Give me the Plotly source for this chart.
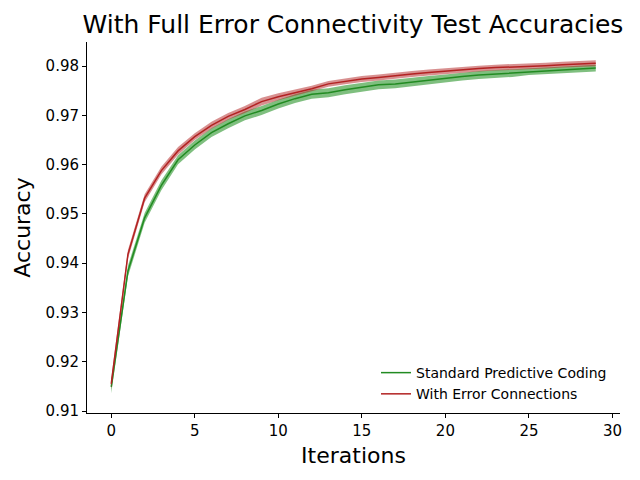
import plotly.graph_objects as go

iterations = list(range(30))
standard_mean = [0.9149, 0.9384, 0.9492, 0.9558, 0.9610, 0.9640, 0.9665, 0.9683, 0.9699, 0.9710,
                 0.9723, 0.9734, 0.9743, 0.9746, 0.9752, 0.9757, 0.9762, 0.9764, 0.9768, 0.9772,
                 0.9775, 0.9779, 0.9782, 0.9784, 0.9786, 0.9789, 0.9791, 0.9792, 0.9794, 0.9796]
standard_std = [0.0013, 0.0011, 0.0010, 0.0010, 0.0009, 0.0009, 0.0009, 0.0009, 0.0009, 0.0009,
                0.0009, 0.0009, 0.0009, 0.0009, 0.0009, 0.0009, 0.0009, 0.0009, 0.0009, 0.0008,
                0.0008, 0.0008, 0.0008, 0.0008, 0.0008, 0.0007, 0.0007, 0.0007, 0.0007, 0.0007]
error_mean = [0.9155, 0.9418, 0.9532, 0.9588, 0.9628, 0.9657, 0.9680, 0.9698, 0.9712, 0.9728,
              0.9738, 0.9746, 0.9754, 0.9764, 0.9769, 0.9774, 0.9777, 0.9781, 0.9784, 0.9787,
              0.9790, 0.9793, 0.9795, 0.9797, 0.9798, 0.9799, 0.9801, 0.9803, 0.9804, 0.9806]
error_std = [0.0011, 0.0009, 0.0008, 0.0008, 0.0008, 0.0007, 0.0007, 0.0007, 0.0007, 0.0008,
             0.0007, 0.0006, 0.0006, 0.0006, 0.0006, 0.0006, 0.0006, 0.0006, 0.0006, 0.0006,
             0.0006, 0.0006, 0.0006, 0.0006, 0.0006, 0.0006, 0.0006, 0.0006, 0.0006, 0.0006]

series = [
    ("Standard Predictive Coding", standard_mean, standard_std, "#228b22", "rgba(0,128,0,0.5)"),
    ("With Error Connections", error_mean, error_std, "#b22222", "rgba(178,34,34,0.5)"),
]

fig = go.Figure()
for name, mean, std, lc, fc in series:
    upper = [m + s for m, s in zip(mean, std)]
    lower = [m - s for m, s in zip(mean, std)]
    fig.add_trace(go.Scatter(x=iterations, y=upper, mode="lines", line=dict(width=0),
                             showlegend=False, hoverinfo="skip"))
    fig.add_trace(go.Scatter(x=iterations, y=lower, mode="lines", line=dict(width=0),
                             fill="tonexty", fillcolor=fc, showlegend=False, hoverinfo="skip"))
    fig.add_trace(go.Scatter(x=iterations, y=mean, mode="lines", name=name,
                             line=dict(color=lc, width=1.5)))

fig.update_layout(
    width=640, height=480,
    margin=dict(l=79, r=28, t=34, b=75),
    paper_bgcolor="white", plot_bgcolor="white",
    font=dict(family="DejaVu Sans", color="black"),
    title=dict(text="With Full Error Connectivity Test Accuracies", x=0.539, xanchor="center",
               y=0.967, yanchor="middle", font=dict(size=25)),
    legend=dict(x=0.985, y=0.008, xanchor="right", yanchor="bottom", bgcolor="rgba(0,0,0,0)",
                font=dict(size=14), tracegroupgap=0, traceorder="normal"),
    showlegend=True,
)
fig.update_xaxes(range=[-1.45, 30.45], tickvals=[0, 5, 10, 15, 20, 25, 30], automargin=False,
                 showline=True, linecolor="black", linewidth=1, ticks="outside", ticklen=4,
                 tickcolor="black", showgrid=False, zeroline=False, mirror=False,
                 tickfont=dict(size=15),
                 title=dict(text="Iterations", font=dict(size=22), standoff=8))
fig.update_yaxes(range=[0.9096, 0.9849], tickvals=[0.91, 0.92, 0.93, 0.94, 0.95, 0.96, 0.97, 0.98],
                 tickformat=".2f", automargin=False,
                 showline=True, linecolor="black", linewidth=1, ticks="outside", ticklen=4,
                 tickcolor="black", showgrid=False, zeroline=False, mirror=False,
                 tickfont=dict(size=15),
                 title=dict(text="Accuracy", font=dict(size=22), standoff=8))

fig.write_html("out.html")
